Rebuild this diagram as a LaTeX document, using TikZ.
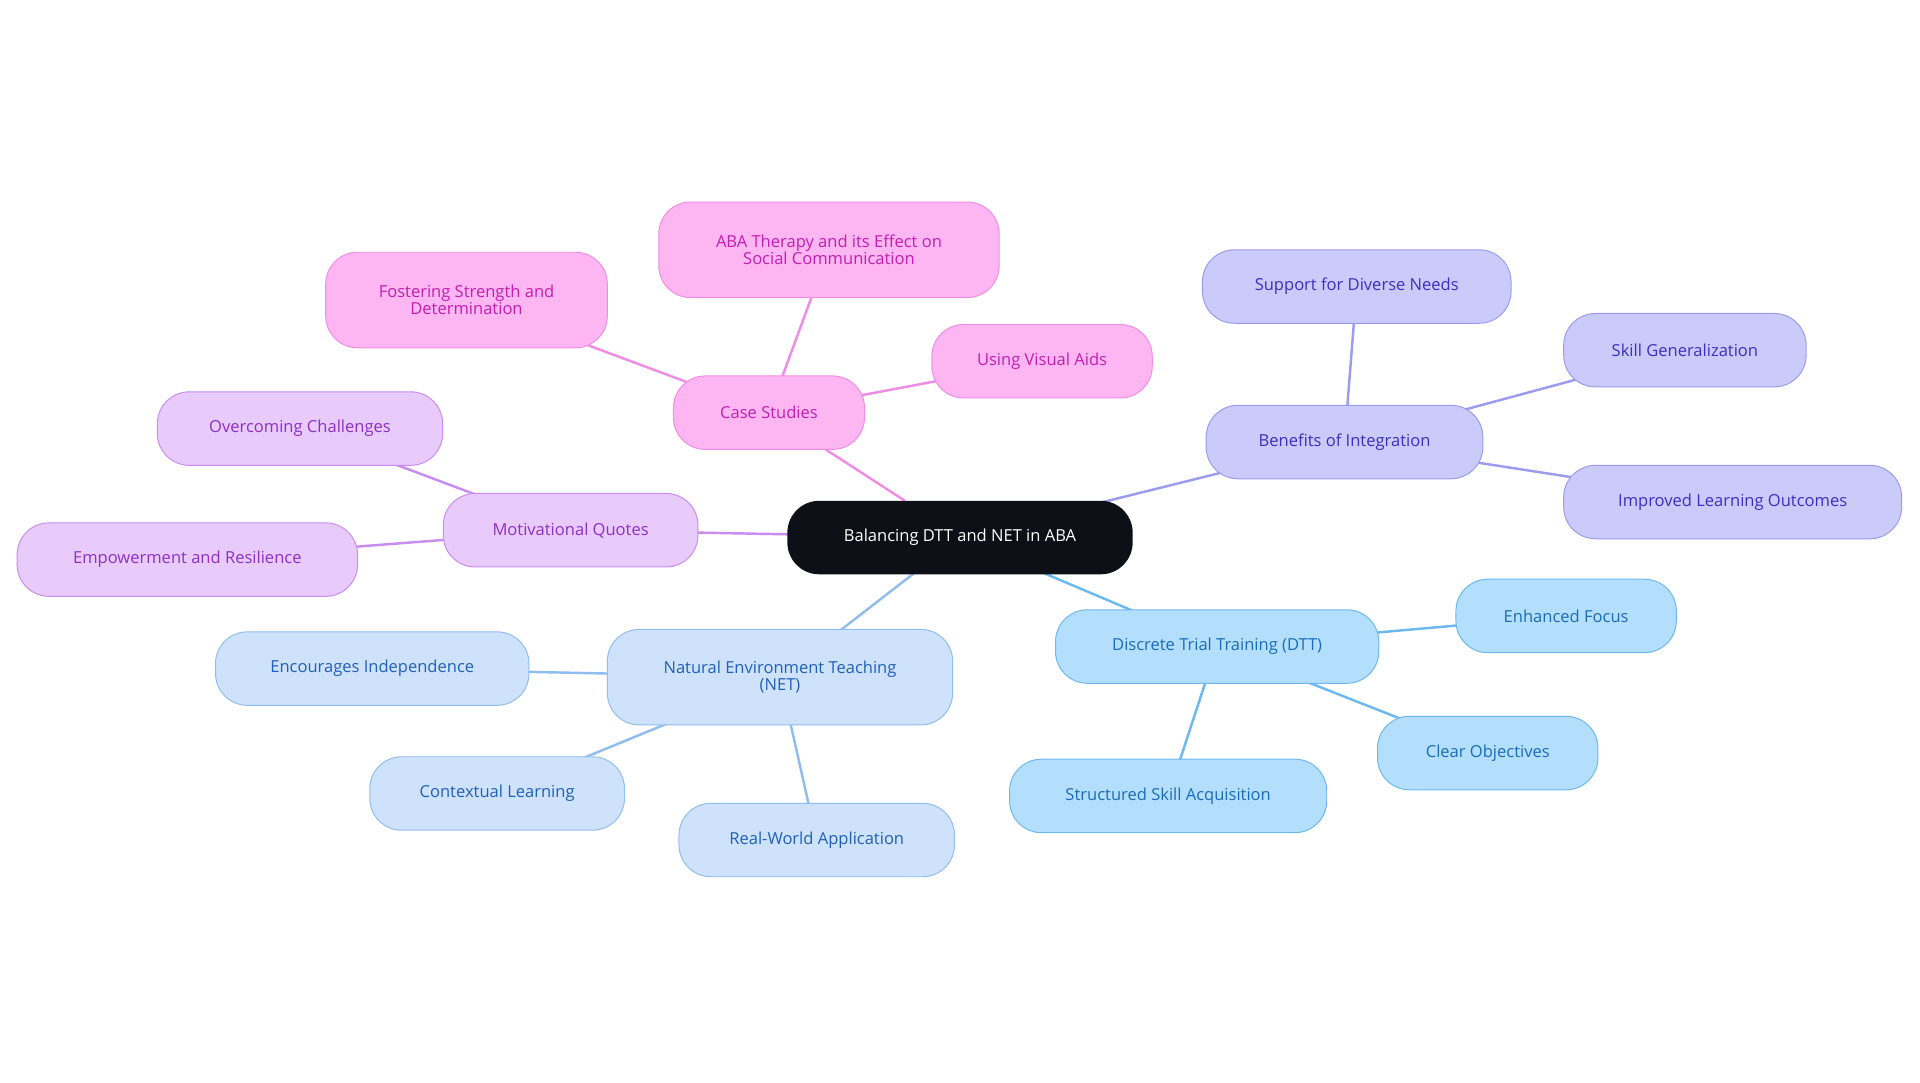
\documentclass[tikz,border=0pt]{standalone}
\usepackage{fontspec}
\setmainfont{Open Sans}
\usetikzlibrary{backgrounds}
\definecolor{pkF}{HTML}{FDB6F2}\definecolor{pkD}{HTML}{F08CE4}\definecolor{pkT}{HTML}{C21FB0}
\definecolor{puF}{HTML}{E8CAFB}\definecolor{puD}{HTML}{C98CF0}\definecolor{puT}{HTML}{8E2FC6}
\definecolor{bvF}{HTML}{CBCBFB}\definecolor{bvD}{HTML}{9B9BF0}\definecolor{bvT}{HTML}{3A2FC0}
\definecolor{lbF}{HTML}{B3DFFD}\definecolor{lbD}{HTML}{6CB8F0}\definecolor{lbT}{HTML}{1A6CB8}
\definecolor{pbF}{HTML}{CFE2FB}\definecolor{pbD}{HTML}{90BDF0}\definecolor{pbT}{HTML}{2060B8}
\definecolor{ctr}{HTML}{0D1117}
\tikzset{
 box/.style={rounded corners=26pt,minimum height=60pt,align=center,font=\fontsize{13.5}{14}\selectfont,line width=0.8pt,inner sep=2pt},
 pk/.style={box,fill=pkF,draw=pkD,text=pkT},
 pu/.style={box,fill=puF,draw=puD,text=puT},
 bv/.style={box,fill=bvF,draw=bvD,text=bvT},
 lb/.style={box,fill=lbF,draw=lbD,text=lbT},
 pb/.style={box,fill=pbF,draw=pbD,text=pbT},
 ed/.style={line width=2pt}
}
\begin{document}
\begin{tikzpicture}[x=1pt,y=-1pt]
\useasboundingbox (0,0) rectangle (1568,884);
\node[box,fill=ctr,text=white,minimum width=282pt] (c) at (784,439) {Balancing DTT and NET in ABA};
\node[pk,minimum width=156pt] (cs) at (628,337) {Case Studies};
\node[pk,minimum width=278pt,minimum height=78pt] (aba) at (677,204) {ABA Therapy and its Effect on\\Social Communication};
\node[pk,minimum width=230pt,minimum height=78pt] (fos) at (381,245) {Fostering Strength and\\Determination};
\node[pk,minimum width=180pt] (vis) at (851,295) {Using Visual Aids};
\node[pu,minimum width=208pt] (mq) at (466,433) {Motivational Quotes};
\node[pu,minimum width=233pt] (oc) at (245,350) {Overcoming Challenges};
\node[pu,minimum width=278pt] (em) at (153,457) {Empowerment and Resilience};
\node[bv,minimum width=226pt] (bi) at (1098,361) {Benefits of Integration};
\node[bv,minimum width=252pt] (sd) at (1108,234) {Support for Diverse Needs};
\node[bv,minimum width=198pt] (sg) at (1376,286) {Skill Generalization};
\node[bv,minimum width=276pt] (il) at (1415,410) {Improved Learning Outcomes};
\node[lb,minimum width=264pt] (dtt) at (994,528) {Discrete Trial Training (DTT)};
\node[lb,minimum width=180pt] (ef) at (1279,503) {Enhanced Focus};
\node[lb,minimum width=180pt] (co) at (1215,615) {Clear Objectives};
\node[lb,minimum width=259pt] (ss) at (954,650) {Structured Skill Acquisition};
\node[pb,minimum width=282pt,minimum height=78pt] (net) at (637,553) {Natural Environment Teaching\\(NET)};
\node[pb,minimum width=256pt] (ei) at (304,546) {Encourages Independence};
\node[pb,minimum width=208pt] (cl) at (406,648) {Contextual Learning};
\node[pb,minimum width=225pt] (rw) at (667,686) {Real-World Application};
\begin{scope}[on background layer]
\draw[ed,pkD] (c.center)++(-45,-30) coordinate (c1) -- (cs.center) (cs.center) -- (aba.center) (cs.center) -- (fos.center) (cs.center) -- (vis.center);
\draw[ed,puD] (c.center) -- (mq.center) (mq.center) -- (oc.center) (mq.center) -- (em.center);
\draw[ed,bvD] (c.center) -- (bi.center) (bi.center) -- (sd.center) (bi.center) -- (sg.center) (bi.center) -- (il.center);
\draw[ed,lbD] (c.center) -- (dtt.center) (dtt.center) -- (ef.center) (dtt.center) -- (co.center) (dtt.center) -- (ss.center);
\draw[ed,pbD] (c.center) -- (net.center) (net.center) -- (ei.center) (net.center) -- (cl.center) (net.center) -- (rw.center);
\end{scope}
\end{tikzpicture}
\end{document}
